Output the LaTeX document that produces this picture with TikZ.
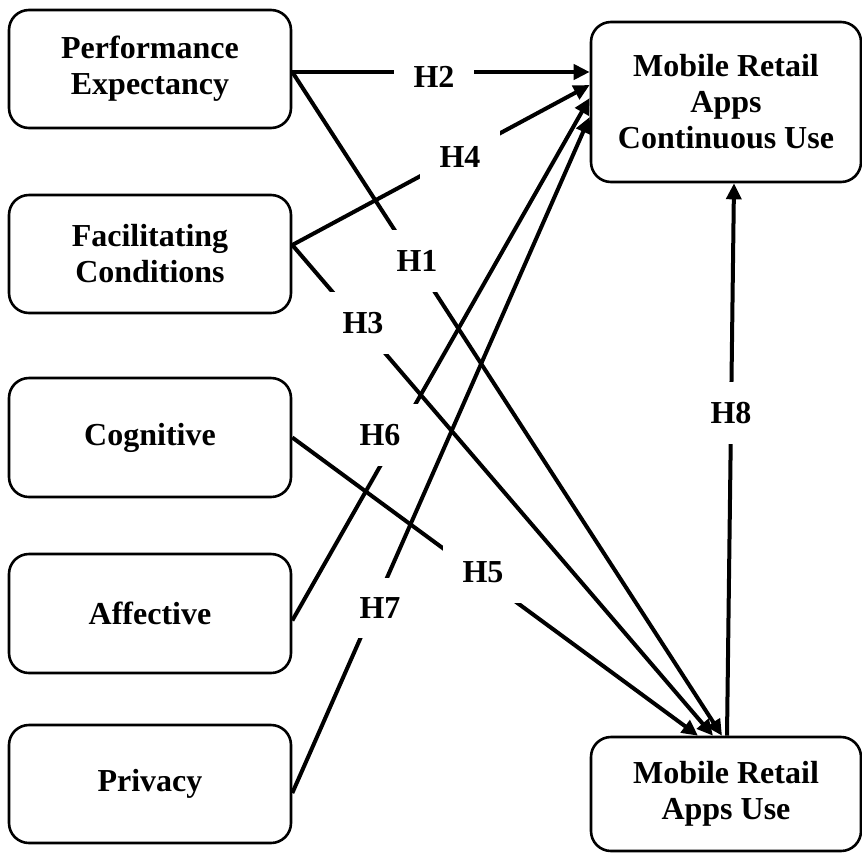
\documentclass[tikz,border=0pt]{standalone}
\usepackage{fontspec}
\setmainfont{Liberation Serif}
\usetikzlibrary{arrows.meta}
\begin{document}
\begin{tikzpicture}[x=0.5pt,y=-0.5pt,
  box/.style={draw, line width=1.3pt, rounded corners=10pt, align=center,
    font=\bfseries\fontsize{16}{18}\selectfont, inner sep=0pt},
  conn/.style={line width=2pt, -{Triangle[length=8pt,width=7.5pt]}},
  hlab/.style={fill=white, inner xsep=10pt, inner ysep=10pt,
    font=\bfseries\fontsize{16}{18}\selectfont}]
\useasboundingbox (0,0) rectangle (862,852);
% left boxes
\node[box, minimum width=141pt, minimum height=59pt] (pe) at (150,69) {Performance\\Expectancy};
\node[box, minimum width=141pt, minimum height=59pt] (fc) at (150,254) {Facilitating\\Conditions};
\node[box, minimum width=141pt, minimum height=59.5pt] (cog) at (150,437.5) {Cognitive};
\node[box, minimum width=141pt, minimum height=59.5pt] (aff) at (150,613.5) {Affective};
\node[box, minimum width=141pt, minimum height=59pt] (pri) at (150,784) {Privacy};
% right boxes
\node[box, minimum width=135pt, minimum height=80pt] (cu) at (726,102) {Mobile Retail\\Apps\\Continuous Use};
\node[box, minimum width=135pt, minimum height=57pt] (use) at (726,794) {Mobile Retail\\Apps Use};
% connectors
\draw[conn] ([yshift=-1.5pt]pe.east) -- ([yshift=15pt]cu.west);
\draw[conn] ([yshift=-1.5pt]pe.east) -- ([xshift=-2pt]use.north);
\draw[conn] ([yshift=4.5pt]fc.east) -- ([yshift=8.5pt]cu.west);
\draw[conn] ([yshift=4.5pt]fc.east) -- ([xshift=-6.5pt]use.north);
\draw[conn] (cog.east) -- ([xshift=-14pt]use.north);
\draw[conn] ([yshift=-3.5pt]aff.east) -- ([yshift=2pt]cu.west);
\draw[conn] ([yshift=-4.5pt]pri.east) -- ([yshift=-7.5pt]cu.west);
\draw[conn] ([xshift=0.5pt]use.north) -- ([xshift=4pt]cu.south);
% labels
\node[hlab] (h2) at (434,77) {H2};
\node[hlab] (h4) at (460,157) {H4};
\node[hlab] (h1) at (417,261) {H1};
\node[hlab] (h3) at (363,323) {H3};
\node[hlab] (h6) at (380,435) {H6};
\node[hlab] (h5) at (483,572) {H5};
\node[hlab] (h7) at (380,608) {H7};
\node[hlab] (h8) at (731,413) {H8};
\end{tikzpicture}
\end{document}
